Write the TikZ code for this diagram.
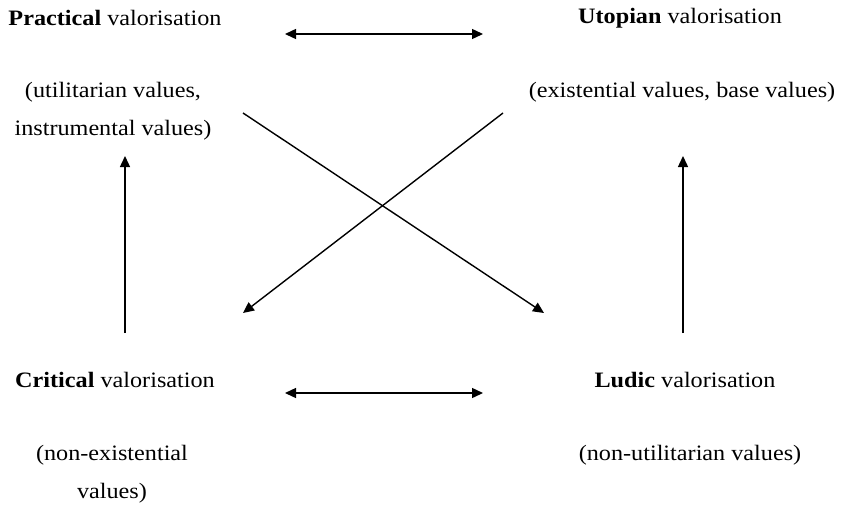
\documentclass[tikz,border=0pt]{standalone}
\usepackage{fontspec}
\setmainfont{Liberation Serif}[FakeStretch=1.1]
\usepackage{tikz}
\usetikzlibrary{arrows.meta,positioning}

\begin{document}
\begin{tikzpicture}[x=1pt,y=-1pt,
  font=\fontsize{22}{38}\selectfont,
  lab/.style={align=center,inner sep=0pt},
  arr/.style={-{Triangle[length=11pt,width=10pt]},line width=1.4pt},
  darr/.style={{Triangle[length=11pt,width=10pt]}-{Triangle[length=11pt,width=10pt]},line width=1.4pt}]
\useasboundingbox (0,0) rectangle (842,506);
% ---------- top row ----------
\node[lab] (practical) at (115,18) {\textbf{Practical} valorisation};
\node[lab] (practicalvals) at (113,111) {(utilitarian values,\\instrumental values)};
\node[lab] (utopian) at (680,18) {\textbf{Utopian} valorisation};
\node[lab] (utopianvals) at (682,92) {(existential values, base values)};
% ---------- bottom row ----------
\node[lab] (critical) at (115,380) {\textbf{Critical} valorisation};
\node[lab] (criticalvals) at (112,474) {(non-existential\\values)};
\node[lab] (ludic) at (685,380) {\textbf{Ludic} valorisation};
\node[lab] (ludicvals) at (690,455) {(non-utilitarian values)};
% ---------- arrow ends ----------
\coordinate (topL) at (285,34);
\coordinate (topR) at (483,34);
\coordinate (botL) at (285,393);
\coordinate (botR) at (483,393);
\coordinate (leftB) at (125,333);
\coordinate (leftT) at (125,156);
\coordinate (rightB) at (683,333);
\coordinate (rightT) at (683,156);
\coordinate (crossA) at (243,113);
\coordinate (crossB) at (544,313);
\coordinate (crossC) at (503,113);
\coordinate (crossD) at (243,313);
% ---------- connectors ----------
\draw[darr] (topL) -- (topR);
\draw[darr] (botL) -- (botR);
\draw[arr] (leftB) -- (leftT);
\draw[arr] (rightB) -- (rightT);
\draw[arr] (crossA) -- (crossB);
\draw[arr] (crossC) -- (crossD);
\end{tikzpicture}
\end{document}
